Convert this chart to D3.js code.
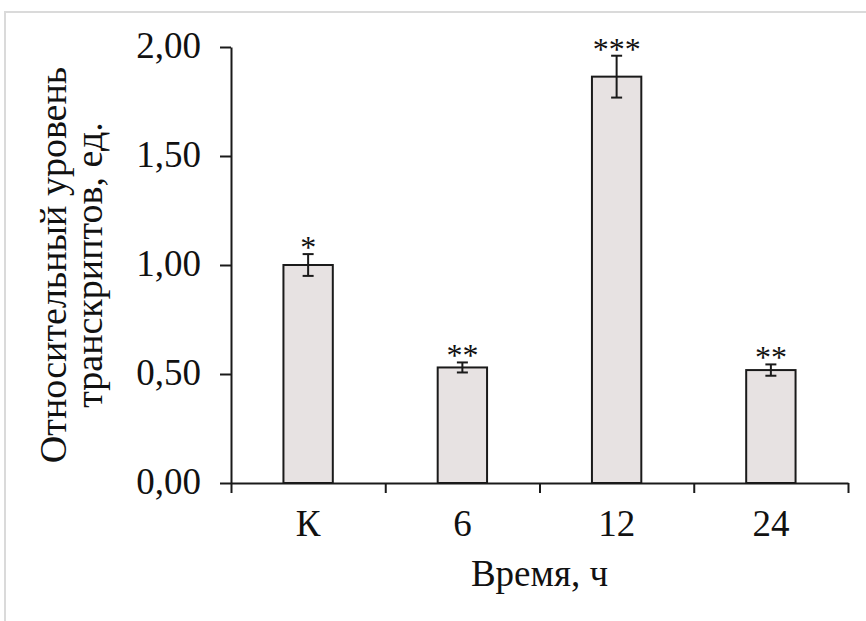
<!DOCTYPE html>
<html>
<head>
<meta charset="utf-8">
<script src="https://cdn.jsdelivr.net/npm/d3@7"></script>
<style>
  html, body { margin: 0; padding: 0; background: #fff; }
  svg { display: block; }
  text { font-family: "Liberation Serif", "Times New Roman", serif; fill: #111; }
</style>
</head>
<body>
<svg id="chart"></svg>
<script>
// data
const categories = ['К', '6', '12', '24'];
const means = [1.00, 0.53, 1.864, 0.518];
const errors = [0.05, 0.023, 0.096, 0.026];
const stars = ['*', '**', '***', '**'];
const yTicks = [0, 0.5, 1, 1.5, 2];

const width = 866;
const height = 621;
const margin = { top: 47, right: 18, bottom: 138, left: 231 };

const svg = d3.select('#chart').attr('width', width).attr('height', height);

// light frame around the plot (only top and left edge visible)
svg.append('path')
  .attr('d', `M5,${height} L5,12 L${width},12`)
  .attr('fill', 'none')
  .attr('stroke', '#dadada')
  .attr('stroke-width', 2);

const x = d3.scaleBand()
  .domain(categories)
  .range([margin.left, width - margin.right])
  .paddingInner(0.68)
  .paddingOuter(0.34);

const xEdges = d3.scaleLinear()
  .domain([0, categories.length])
  .range([margin.left, width - margin.right]);

const y = d3.scaleLinear()
  .domain([0, 2])
  .range([height - margin.bottom, margin.top]);

const fmt = d => d3.format('.2f')(d).replace('.', ',');

// bars
svg.append('g')
  .selectAll('rect')
  .data(categories)
  .join('rect')
  .attr('x', d => x(d))
  .attr('y', (d, i) => y(means[i]))
  .attr('width', x.bandwidth())
  .attr('height', (d, i) => y(0) - y(means[i]))
  .attr('fill', '#e7e2e2')
  .attr('stroke', '#1a1a1a')
  .attr('stroke-width', 2);

// error bars
const eb = svg.append('g').attr('stroke', '#1a1a1a').attr('stroke-width', 2);
categories.forEach((c, i) => {
  const cx = x(c) + x.bandwidth() / 2;
  const top = y(means[i] + errors[i]);
  const bot = y(means[i] - errors[i]);
  eb.append('line').attr('x1', cx).attr('x2', cx).attr('y1', top).attr('y2', bot);
  eb.append('line').attr('x1', cx - 5.5).attr('x2', cx + 5.5).attr('y1', top).attr('y2', top);
  eb.append('line').attr('x1', cx - 5.5).attr('x2', cx + 5.5).attr('y1', bot).attr('y2', bot);
});

// significance marks
svg.append('g')
  .selectAll('text')
  .data(categories)
  .join('text')
  .attr('x', d => x(d) + x.bandwidth() / 2)
  .attr('y', (d, i) => y(means[i] + errors[i]) + 4)
  .attr('text-anchor', 'middle')
  .style('font-size', '32px')
  .text((d, i) => stars[i]);

// y axis
const yAxis = svg.append('g')
  .attr('transform', `translate(${margin.left},0)`)
  .call(d3.axisLeft(y).tickValues(yTicks).tickFormat(fmt).tickSize(11).tickSizeOuter(0).tickPadding(19));
yAxis.selectAll('path, line').attr('stroke', '#1a1a1a').attr('stroke-width', 2);
yAxis.selectAll('text').style('font-size', '37px').attr('dy', '0.27em');

// x axis: boundary ticks
const xAxis = svg.append('g')
  .attr('transform', `translate(0,${y(0)})`)
  .call(d3.axisBottom(xEdges).tickValues(d3.range(categories.length + 1)).tickFormat('').tickSize(10).tickSizeOuter(0));
xAxis.selectAll('path, line').attr('stroke', '#1a1a1a').attr('stroke-width', 2);

// x axis: category labels
const xLabels = svg.append('g')
  .attr('transform', `translate(0,${y(0)})`)
  .call(d3.axisBottom(x).tickSize(0).tickPadding(27));
xLabels.select('.domain').remove();
xLabels.selectAll('text').style('font-size', '37px');

// axis titles
svg.append('text')
  .attr('x', (margin.left + width - margin.right) / 2)
  .attr('y', 586)
  .attr('text-anchor', 'middle')
  .style('font-size', '37px')
  .text('Время, ч');

const yTitle = svg.append('text')
  .attr('transform', `translate(0,${(y(0) + y(2)) / 2}) rotate(-90)`)
  .attr('text-anchor', 'middle')
  .style('font-size', '38px');
yTitle.append('tspan').attr('x', 0).attr('y', 66).text('Относительный уровень');
yTitle.append('tspan').attr('x', 0).attr('y', 102).text('транскриптов, ед.');
</script>
</body>
</html>
